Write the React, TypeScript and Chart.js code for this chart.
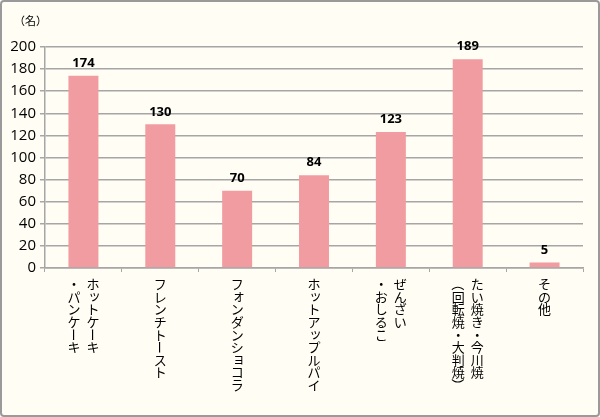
import React, { useEffect, useRef } from "react";
import { Chart, registerables } from "chart.js";

Chart.register(...registerables);

// Each category: columns of vertical text, right column first.
const categories: string[][] = [
  ["ホットケーキ", "・パンケーキ"],
  ["フレンチトースト"],
  ["フォンダンショコラ"],
  ["ホットアップルパイ"],
  ["ぜんざい", "・おしるこ"],
  ["たい焼き・今川焼", "（回転焼・大判焼）"],
  ["その他"],
];
const values: number[] = [174, 130, 70, 84, 123, 189, 5];
const unitLabel = "（名）";
const yMax = 200;
const yStep = 20;

const BG = "#FFFDF4";
const BAR = "#F19CA0";
const GRID = "#A6A6A6";
const CJK = "'Noto Sans CJK JP', sans-serif";

const smallKana = new Set("ッョァィゥェォャュッっょゃゅぁぃぅぇぉ".split(""));
const rotateChars = new Set("ー（）()「」〜".split(""));

const framePlugin = {
  id: "frame",
  beforeDraw(chart: any) {
    const { ctx, width, height } = chart;
    ctx.save();
    ctx.fillStyle = BG;
    ctx.fillRect(0, 0, width, height);
    ctx.strokeStyle = "#9A9A9A";
    ctx.lineWidth = 2;
    ctx.beginPath();
    ctx.roundRect(1, 1, width - 2, height - 2, 3);
    ctx.stroke();
    ctx.fillStyle = "#000";
    ctx.font = `11px ${CJK}`;
    ctx.textAlign = "left";
    ctx.textBaseline = "middle";
    ctx.fillText(unitLabel, 14, 21);
    ctx.restore();
  },
  afterDraw(chart: any) {
    const { ctx } = chart;
    const xs = chart.scales.x;
    const ys = chart.scales.y;
    ctx.save();
    // vertical category labels
    const size = 13;
    const adv = 12.6;
    const colGap = 19;
    ctx.font = `${size}px ${CJK}`;
    ctx.fillStyle = "#000";
    ctx.textAlign = "center";
    ctx.textBaseline = "middle";
    categories.forEach((cols, i) => {
      const cx = xs.getPixelForValue(i);
      const n = cols.length;
      cols.forEach((col, c) => {
        const x = cx + ((n - 1) / 2 - c) * colGap;
        const chars = Array.from(col);
        chars.forEach((ch, k) => {
          const y = 278 + adv * k + adv / 2;
          ctx.save();
          ctx.translate(x, y);
          if (rotateChars.has(ch)) {
            ctx.rotate(Math.PI / 2);
          } else if (smallKana.has(ch)) {
            ctx.translate(size * 0.12, -size * 0.12);
          }
          ctx.fillText(ch, 0, 0);
          ctx.restore();
        });
      });
    });
    // value labels
    ctx.font = `bold 13px 'Open Sans', sans-serif`;
    ctx.textBaseline = "bottom";
    const meta = chart.getDatasetMeta(0);
    meta.data.forEach((bar: any, i: number) => {
      ctx.fillText(String(values[i]), bar.x, ys.getPixelForValue(values[i]) - 6);
    });
    ctx.restore();
  },
};

export default function App() {
  const ref = useRef<HTMLCanvasElement | null>(null);
  useEffect(() => {
    document.body.style.margin = "0";
    const canvas = ref.current!;
    const chart = new Chart(canvas, {
      type: "bar",
      data: {
        labels: categories.map((c) => c.join("")),
        datasets: [
          {
            data: values,
            backgroundColor: BAR,
            borderWidth: 0,
            barPercentage: 0.39,
            categoryPercentage: 1,
          },
        ],
      },
      options: {
        responsive: false,
        animation: false,
        devicePixelRatio: 1,
        layout: { padding: { left: 0, top: 47, right: 17, bottom: 144 } },
        plugins: { legend: { display: false }, tooltip: { enabled: false } },
        scales: {
          x: {
            offset: true,
            grid: {
              display: true,
              offset: true,
              drawOnChartArea: false,
              color: GRID,
              tickLength: 4,
            },
            border: { display: true, color: GRID, width: 1.5 },
            ticks: { display: false },
            afterFit: (s: any) => {
              s.height = 5;
            },
          },
          y: {
            min: 0,
            max: yMax,
            ticks: {
              stepSize: yStep,
              color: "#000",
              padding: 4,
              font: { family: "'Open Sans', sans-serif", size: 15 },
            },
            grid: { color: GRID, lineWidth: 1.5, tickLength: 5 },
            border: { display: true, color: GRID, width: 1.5 },
            afterFit: (s: any) => {
              s.width = 45;
            },
          },
        },
      },
      plugins: [framePlugin],
    } as any);
    return () => chart.destroy();
  }, []);
  return <canvas ref={ref} width={600} height={417} style={{ display: "block" }} />;
}
